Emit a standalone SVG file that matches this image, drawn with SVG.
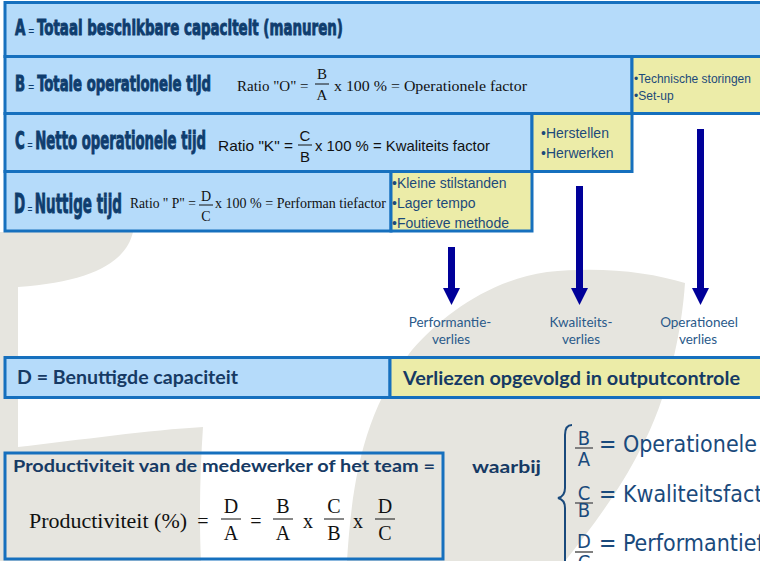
<svg xmlns="http://www.w3.org/2000/svg" width="760" height="561" viewBox="0 0 760 561">
<defs>
<style>
.bx{fill:#b5dbfa;stroke:#1670be;stroke-width:3}
.yb{fill:#ececa8;stroke:#1670be;stroke-width:3}
.ttl{font-family:'DejaVu Sans Condensed','DejaVu Sans',sans-serif;font-weight:bold;font-stretch:condensed;fill:#0f3d6e;stroke:#0f3d6e;stroke-width:0.9}
.eq{font-weight:normal;font-size:13px;stroke-width:0}
.sf{font-family:'Liberation Serif','Times New Roman',serif;fill:#111}
.ar{font-family:'Liberation Sans',Arial,sans-serif;fill:#111}
.yt{font-family:'Liberation Sans',Arial,sans-serif;fill:#1c4a7a}
.cb{font-family:Lato,'Open Sans',sans-serif;font-weight:bold;fill:#163a64}
.lb{font-family:Lato,'Open Sans',sans-serif;font-size:13.5px;fill:#2a5a8a;text-anchor:middle}
.rt{font-family:'DejaVu Sans Condensed','DejaVu Sans',sans-serif;font-stretch:condensed;fill:#1a4a7c}
.fl{stroke:#111;stroke-width:1}
.gl{stroke:#808080;stroke-width:2}
.arw{fill:#000099}
</style>
</defs>
<rect width="760" height="561" fill="#ffffff"/>
<!-- watermark -->
<g id="watermark" fill="#e6e5df">
<path d="M0,232 L133,232 C126,262 92,282 18,287 L18,447 C80,440 150,430 203,427 C200,470 199,520 201,561 L0,561 Z"/>
<path d="M347,561 C352,480 364,410 412,350 C442,315 490,280 547,272 C600,266 650,272 685,283 C682,330 668,400 640,450 C620,490 590,530 565,561 Z"/>
</g>
<!-- top boxes -->
<g id="nodeA"><rect class="bx" x="5" y="2.5" width="760" height="54"/>
<text class="ttl" x="15" y="35" font-size="22" textLength="328" lengthAdjust="spacingAndGlyphs">A<tspan class="eq"> = </tspan>Totaal beschikbare capaciteit (manuren)</text></g>
<g id="nodeB"><rect class="bx" x="5" y="56.5" width="627" height="57"/>
<text class="ttl" x="15" y="91" font-size="21" textLength="196" lengthAdjust="spacingAndGlyphs">B<tspan class="eq"> = </tspan>Totale operationele tijd</text>
<text class="sf" x="237" y="91" font-size="15">Ratio "O" =</text>
<text class="sf" x="322" y="79" font-size="15" text-anchor="middle">B</text>
<line class="fl" x1="315" y1="84" x2="329" y2="84"/>
<text class="sf" x="322" y="100" font-size="15" text-anchor="middle">A</text>
<text class="sf" x="334" y="91" font-size="15" textLength="193" lengthAdjust="spacingAndGlyphs">x 100 % = Operationele factor</text></g>
<g id="lossB"><rect class="yb" x="632" y="56.5" width="130" height="57"/>
<text class="yt" x="634" y="83" font-size="12">•Technische storingen</text>
<text class="yt" x="634" y="100" font-size="12">•Set-up</text></g>
<g id="nodeC"><rect class="bx" x="5" y="113.5" width="527" height="58"/>
<text class="ttl" x="15" y="149" font-size="24" textLength="191" lengthAdjust="spacingAndGlyphs">C<tspan class="eq"> = </tspan>Netto operationele tijd</text>
<text class="ar" x="218" y="151" font-size="15" textLength="75" lengthAdjust="spacingAndGlyphs">Ratio "K" =</text>
<text class="ar" x="305" y="141" font-size="15" text-anchor="middle">C</text>
<line class="fl" x1="298" y1="145" x2="312" y2="145"/>
<text class="ar" x="305" y="162" font-size="15" text-anchor="middle">B</text>
<text class="ar" x="315" y="151" font-size="15" textLength="175" lengthAdjust="spacingAndGlyphs">x 100 % = Kwaliteits factor</text></g>
<g id="lossC"><rect class="yb" x="532" y="113.5" width="100" height="58"/>
<text class="yt" x="541" y="138" font-size="14">•Herstellen</text>
<text class="yt" x="541" y="158" font-size="14">•Herwerken</text></g>
<g id="nodeD"><rect class="bx" x="5" y="171.5" width="386" height="59.5"/>
<text class="ttl" x="14" y="213" font-size="27" textLength="108" lengthAdjust="spacingAndGlyphs">D<tspan class="eq" font-size="15"> = </tspan>Nuttige tijd</text>
<text class="sf" x="130" y="208" font-size="14" textLength="66" lengthAdjust="spacingAndGlyphs">Ratio " P" =</text>
<text class="sf" x="206" y="201" font-size="14" text-anchor="middle">D</text>
<line class="fl" x1="199" y1="205" x2="213" y2="205"/>
<text class="sf" x="206" y="221" font-size="14" text-anchor="middle">C</text>
<text class="sf" x="215" y="208" font-size="14" textLength="171" lengthAdjust="spacingAndGlyphs">x 100 % = Performan tiefactor</text></g>
<g id="lossD"><rect class="yb" x="391" y="171.5" width="141" height="59.5"/>
<text class="yt" x="392" y="188" font-size="14">•Kleine stilstanden</text>
<text class="yt" x="392" y="208" font-size="14">•Lager tempo</text>
<text class="yt" x="392" y="228" font-size="14">•Foutieve methode</text></g>
<!-- connectors -->
<g id="connectors">
<path class="arw" d="M448,247 H455 V288 H460 L451.5,305 L443,288 H448 Z"/>
<path class="arw" d="M576,186 H583 V288 H588 L579.5,305 L571,288 H576 Z"/>
<path class="arw" d="M697,129 H704 V288 H709 L700.5,305 L692,288 H697 Z"/>
</g>
<g id="labelPerf"><text class="lb" x="450" y="327">Performantie-</text><text class="lb" x="451" y="344">verlies</text></g>
<g id="labelKwal"><text class="lb" x="581" y="327">Kwaliteits-</text><text class="lb" x="581" y="344">verlies</text></g>
<g id="labelOper"><text class="lb" x="699" y="327">Operationeel</text><text class="lb" x="698" y="344">verlies</text></g>
<!-- bottom -->
<g id="nodeBenut"><rect class="bx" x="5" y="357.5" width="385" height="40"/>
<text class="cb" x="17" y="384" font-size="18" textLength="221" lengthAdjust="spacingAndGlyphs">D = Benuttigde capaciteit</text></g>
<g id="nodeVerl"><rect class="yb" x="390" y="357.5" width="372" height="40"/>
<text class="cb" x="403" y="385" font-size="18" textLength="337" lengthAdjust="spacingAndGlyphs">Verliezen opgevolgd in outputcontrole</text></g>
<g id="nodeProd"><rect x="5" y="453" width="438" height="106" fill="none" stroke="#1670be" stroke-width="3"/>
<text class="cb" x="13" y="472" font-size="17" textLength="422" lengthAdjust="spacingAndGlyphs">Productiviteit van de medewerker of het team =</text>
<g class="sf" font-size="20">
<text x="29" y="528" textLength="158" lengthAdjust="spacingAndGlyphs">Productiviteit (%)</text>
<text x="203" y="528" text-anchor="middle">=</text>
<text x="231" y="513" text-anchor="middle">D</text><line class="fl" x1="221" y1="519" x2="241" y2="519"/><text x="231" y="540" text-anchor="middle">A</text>
<text x="256" y="528" text-anchor="middle">=</text>
<text x="283" y="513" text-anchor="middle">B</text><line class="fl" x1="273" y1="519" x2="293" y2="519"/><text x="283" y="540" text-anchor="middle">A</text>
<text x="308" y="528" text-anchor="middle">x</text>
<text x="334" y="513" text-anchor="middle">C</text><line class="fl" x1="324" y1="519" x2="344" y2="519"/><text x="334" y="540" text-anchor="middle">B</text>
<text x="358" y="528" text-anchor="middle">x</text>
<text x="385" y="513" text-anchor="middle">D</text><line class="fl" x1="375" y1="519" x2="395" y2="519"/><text x="385" y="540" text-anchor="middle">C</text>
</g></g>
<g id="nodeWaarbij">
<text class="cb" x="472" y="473" font-size="17" textLength="69" lengthAdjust="spacingAndGlyphs">waarbij</text>
<path d="M572,425 C567,425 565,429 565,435 L565,488 C565,495 562,497 558,498 C562,499 565,501 565,508 L565,561" fill="none" stroke="#1a4a7c" stroke-width="2"/>
<g class="rt" font-size="20" text-anchor="middle">
<text x="584" y="445">B</text><line class="gl" x1="575" y1="448" x2="593" y2="448"/><text x="584" y="466">A</text>
<text x="584" y="500">C</text><line class="gl" x1="575" y1="503" x2="593" y2="503"/><text x="584" y="517">B</text>
<text x="584" y="548">D</text><line class="gl" x1="575" y1="552" x2="593" y2="552"/><text x="584" y="569">C</text>
</g>
<g class="rt" font-size="23">
<text x="599" y="452">= Operationele</text>
<text x="599" y="502">= Kwaliteitsfactor</text>
<text x="599" y="551">= Performantiefactor</text>
</g></g>
</svg>
